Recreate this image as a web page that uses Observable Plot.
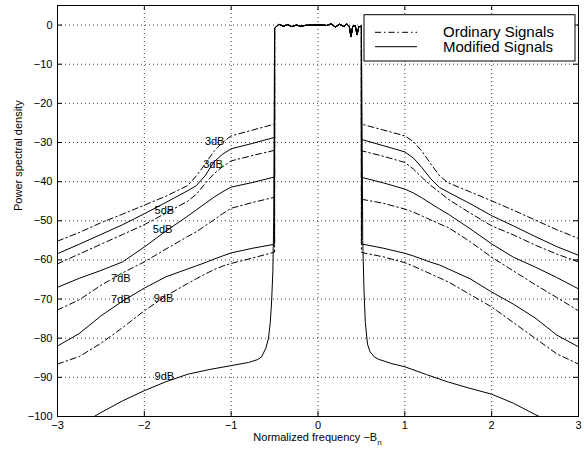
<!DOCTYPE html>
<html>
<head>
<meta charset="utf-8">
<script src="https://cdn.jsdelivr.net/npm/d3@7"></script>
<script src="https://cdn.jsdelivr.net/npm/@observablehq/plot@0.6"></script>
<style>
  html, body { margin: 0; padding: 0; background: #fff; }
  #chart { width: 584px; height: 452px; }
</style>
</head>
<body>
<div id="chart"></div>
<script>
// ---------- data ----------
const xTicks = [-3, -2, -1, 0, 1, 2, 3];
const yTicks = [-100, -90, -80, -70, -60, -50, -40, -30, -20, -10, 0];

// passband (shared by every curve)
const passX = [-0.5, -0.45, -0.4, -0.35, -0.3, -0.25, -0.2, -0.15, -0.1, -0.05, 0, 0.05, 0.1, 0.15, 0.2, 0.25, 0.3, 0.33, 0.36, 0.38, 0.4, 0.43, 0.45, 0.47, 0.5];
const passY = [-0.8, 0.2, -0.3, 0.1, -0.4, 0, -0.3, -0.1, 0, 0, 0, 0, -0.1, 0.3, -0.5, 0.2, -0.4, 0.3, -0.3, -3, -0.3, -0.2, -2.5, -0.4, -0.3];

// side-lobe frequency grids
const xLeft  = [-3, -2.75, -2.5, -2.25, -2, -1.75, -1.5, -1.4, -1.3, -1.2, -1.1, -1, -0.75, -0.5];
const xRight = [0.5, 0.75, 1, 1.1, 1.2, 1.3, 1.4, 1.5, 1.75, 2, 2.25, 2.5, 2.75, 3];

// ordinary signals (dash-dot)
const ordinary1L = [-55.2, -53, -50.5, -48.3, -46, -43.7, -41, -38.5, -35.5, -32.3, -30, -28.3, -26.8, -25.3];
const ordinary1R = [-25.3, -26.8, -28.3, -29.8, -32.3, -35.5, -38.5, -40.3, -42.6, -44.9, -47.3, -49.8, -52.3, -54.5];
const ordinary2L = [-61, -58.5, -56, -53.5, -51, -48, -45, -43.2, -40.5, -38, -36.2, -34.7, -33.3, -32];
const ordinary2R = [-32.1, -33.5, -35.1, -36.8, -39, -41, -42.7, -44.5, -48, -51.3, -53.6, -56.2, -58.5, -60.5];
const ordinary3L = [-72.8, -70.2, -66.5, -63.3, -60.5, -57.2, -54, -52.8, -51.3, -49.8, -48.2, -46.8, -45.3, -44];
const ordinary3R = [-44.5, -45.5, -47, -47.8, -48.8, -49.8, -50.8, -51.7, -55.3, -59.3, -62.8, -66.3, -69.6, -73];
const ordinary4L = [-86.6, -84.7, -81.3, -77.3, -73, -69.2, -66, -64.8, -63.6, -62.5, -61.6, -60.9, -59.5, -58];
const ordinary4R = [-58.1, -59.2, -60.7, -61.6, -62.6, -63.6, -64.6, -65.6, -68.8, -72, -76, -80, -84, -86.6];

// modified signals (solid)
const modified1L = [-58.4, -56, -53.5, -51, -48.2, -45.3, -42.3, -41, -38.5, -35, -33, -31.6, -30.2, -28.7];
const modified1R = [-29.2, -30.8, -32.4, -34, -36.5, -39.3, -41.5, -42.7, -45.6, -48.7, -51.3, -54, -56.6, -58.8];
const modified2L = [-67, -64.7, -62.7, -60.5, -56.7, -52.6, -48.8, -47.2, -45.6, -44, -42.6, -41.4, -40.2, -38.8];
const modified2R = [-38.9, -40.3, -41.9, -42.9, -44.2, -45.6, -47, -48.3, -52, -55.9, -59.3, -61.8, -64.5, -67.4];
const modified3L = [-82, -78.8, -74.3, -70.5, -67.2, -64.3, -62.3, -61.5, -60.7, -59.8, -59, -58.2, -57, -56];
const modified3R = [-55.9, -57, -58.3, -59, -59.8, -60.6, -61.3, -62.3, -64.8, -68.2, -71.3, -74.8, -79.2, -82.2];
const modified4LX = [-2.6, -2.5, -2.25, -2, -1.75, -1.5, -1.25, -1, -0.8, -0.7, -0.65, -0.6, -0.57, -0.55, -0.535, -0.52, -0.51];
const modified4LY = [-100.3, -99, -96, -93.4, -91.1, -89.2, -88, -87, -86.2, -85.5, -84.8, -82.5, -80, -76, -71, -63, -50];
const modified4RX = [0.51, 0.515, 0.53, 0.545, 0.57, 0.6, 0.65, 0.7, 0.85, 1, 1.25, 1.5, 1.75, 2, 2.25, 2.5, 2.6];
const modified4RY = [-35, -55, -68, -76, -81.5, -83.5, -84.8, -85.4, -86.5, -87.3, -89.3, -91.2, -92.8, -94.3, -96.6, -99.5, -100.5];

// curve annotations
const labelText = ["3dB", "3dB", "5dB", "5dB", "7dB", "7dB", "9dB", "9dB"];
const labelX = [-1.19, -1.21, -1.77, -1.79, -2.27, -2.27, -1.78, -1.77];
const labelY = [-29.7, -35.5, -47.3, -52.3, -64.7, -70.2, -69.8, -89.8];

const legendNames = ["Ordinary Signals", "Modified Signals"];

// ---------- build table ----------
const rows = [];
function addCurve(name, style, lx, ly, rx, ry) {
  lx.forEach((x, i) => rows.push({curve: name, style, x, y: ly[i]}));
  passX.forEach((x, i) => rows.push({curve: name, style, x, y: passY[i]}));
  rx.forEach((x, i) => rows.push({curve: name, style, x, y: ry[i]}));
}
addCurve("o1", "dashdot", xLeft, ordinary1L, xRight, ordinary1R);
addCurve("o2", "dashdot", xLeft, ordinary2L, xRight, ordinary2R);
addCurve("o3", "dashdot", xLeft, ordinary3L, xRight, ordinary3R);
addCurve("o4", "dashdot", xLeft, ordinary4L, xRight, ordinary4R);
addCurve("m1", "solid", xLeft, modified1L, xRight, modified1R);
addCurve("m2", "solid", xLeft, modified2L, xRight, modified2R);
addCurve("m3", "solid", xLeft, modified3L, xRight, modified3R);
addCurve("m4", "solid", modified4LX, modified4LY, modified4RX, modified4RY);

const labels = labelText.map((t, i) => ({t, x: labelX[i], y: labelY[i]}));

const fmt = d => (d < 0 ? "\u2212" + Math.abs(d) : String(d));
const W = 584, H = 452, mL = 57, mR = 6, mT = 5, mB = 36;
const frameW = W - mL - mR, frameH = H - mT - mB, tickLen = 5;
const dashDot = "6,3,1.5,3";

const chart = Plot.plot({
  width: W, height: H,
  marginLeft: mL, marginRight: mR, marginTop: mT, marginBottom: mB,
  style: {fontFamily: "'Liberation Sans', Arial, Helvetica, sans-serif", fontSize: "11px", background: "#fff", color: "#000"},
  x: {domain: [-3, 3]},
  y: {domain: [-100, 5]},
  marks: [
    Plot.gridX(xTicks, {stroke: "#000", strokeOpacity: 0.75, strokeDasharray: "1,3"}),
    Plot.gridY(yTicks, {stroke: "#000", strokeOpacity: 0.75, strokeDasharray: "1,3"}),
    Plot.line(rows.filter(d => d.style === "dashdot"), {x: "x", y: "y", z: "curve", stroke: "#000", strokeWidth: 1, strokeDasharray: dashDot, clip: true}),
    Plot.line(rows.filter(d => d.style === "solid"), {x: "x", y: "y", z: "curve", stroke: "#000", strokeWidth: 1, clip: true}),
    Plot.text(labels, {x: "x", y: "y", text: "t", fontSize: 11, fill: "#000"}),
    Plot.frame({stroke: "#000", strokeWidth: 1}),
    Plot.tickX(xTicks, {x: d => d, insetTop: frameH - tickLen, stroke: "#000"}),
    Plot.tickX(xTicks, {x: d => d, insetBottom: frameH - tickLen, stroke: "#000"}),
    Plot.tickY(yTicks, {y: d => d, insetRight: frameW - tickLen, stroke: "#000"}),
    Plot.tickY(yTicks, {y: d => d, insetLeft: frameW - tickLen, stroke: "#000"}),
    Plot.axisX(xTicks, {tickSize: 0, tickPadding: 5, tickFormat: fmt, label: null, fontSize: 11}),
    Plot.axisY(yTicks, {tickSize: 0, tickPadding: 5, tickFormat: fmt, label: null, fontSize: 11}),
    Plot.text(["Power spectral density"], {frameAnchor: "left", rotate: -90, dx: -39, text: d => d, fontSize: 11})
  ]
});
document.getElementById("chart").appendChild(chart);

// ---------- x label with subscript ----------
const svg = d3.select(chart);
const sx = chart.scale("x");
const xl = svg.append("text")
  .attr("x", sx.apply(0)).attr("y", H - 11)
  .attr("text-anchor", "middle")
  .attr("font-size", 11).attr("fill", "#000");
xl.append("tspan").text("Normalized frequency \u2212B");
xl.append("tspan").attr("font-size", 8).attr("dy", 4).text("n");

// ---------- legend ----------
const lg = svg.append("g").attr("font-size", 15).attr("fill", "#000").attr("text-anchor", "start");
const lx0 = 364, ly0 = 14.7, lw = 211, lh = 46.3;
lg.append("rect").attr("x", lx0).attr("y", ly0).attr("width", lw).attr("height", lh)
  .attr("fill", "#fff").attr("stroke", "#000").attr("stroke-width", 1);
legendNames.forEach((name, i) => {
  const cy = ly0 + 17.6 + i * 14.4;
  lg.append("line").attr("x1", lx0 + 11).attr("x2", lx0 + 53).attr("y1", cy).attr("y2", cy)
    .attr("stroke", "#000").attr("stroke-width", 1)
    .attr("stroke-dasharray", i === 0 ? dashDot : null);
  lg.append("text").attr("x", lx0 + 79).attr("y", cy + 4.8)
    .attr("text-anchor", "start").attr("font-size", 15).text(name);
});
</script>
</body>
</html>
